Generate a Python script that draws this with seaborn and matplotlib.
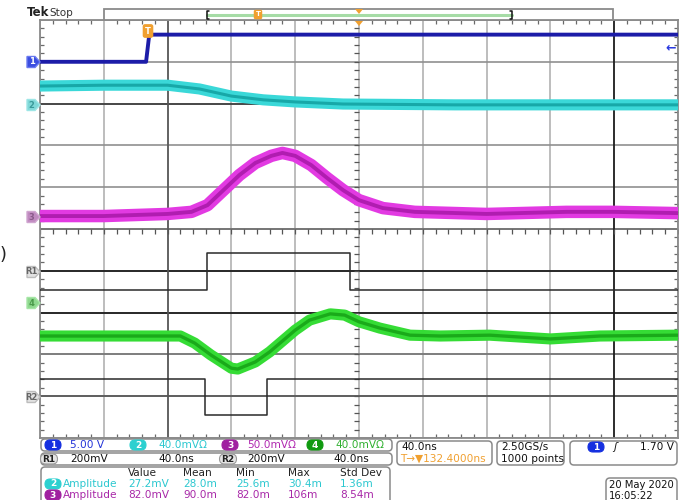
import numpy as np
import matplotlib
matplotlib.use("Agg")
import matplotlib.pyplot as plt
import seaborn as sns
from matplotlib.patches import FancyBboxPatch, Rectangle, Polygon
from matplotlib.transforms import Affine2D

sns.set_theme(style="white")
plt.rcParams['font.family'] = ['DejaVu Sans']

# ---- waveform data (time in ns from left screen edge, 40 ns/div; vertical in screen divisions, 0 = bottom) ----
ch1_t = [0, 66.5, 68.5, 400]
ch1_v = [9.00, 9.00, 9.65, 9.65]

ch2_t = [0, 40, 80, 100, 120, 140, 160, 190, 260, 330, 400]
ch2_v = [8.42, 8.44, 8.44, 8.35, 8.18, 8.09, 8.04, 7.99, 7.97, 7.97, 7.97]

ch3_t = [0, 40, 80, 95, 105, 115, 125, 135, 145, 152, 160, 170, 180, 190, 200, 215, 235, 280, 330, 360, 400]
ch3_v = [5.31, 5.31, 5.36, 5.41, 5.57, 5.93, 6.29, 6.58, 6.75, 6.82, 6.75, 6.53, 6.22, 5.93, 5.69, 5.50, 5.41, 5.36, 5.41, 5.41, 5.38]

ch4_t = [0, 50, 88, 97, 107, 120, 124, 135, 144, 160, 169, 182, 191, 200, 213, 232, 251, 282, 320, 351, 400]
ch4_v = [2.44, 2.44, 2.44, 2.27, 1.99, 1.67, 1.65, 1.82, 2.06, 2.58, 2.82, 2.97, 2.94, 2.78, 2.63, 2.46, 2.44, 2.46, 2.37, 2.44, 2.46]

r1_t = [0, 104.7, 104.7, 194.4, 194.4, 400]
r1_v = [3.54, 3.54, 4.43, 4.43, 3.54, 3.54]

r2_t = [0, 103.4, 103.4, 142.3, 142.3, 400]
r2_v = [1.41, 1.41, 0.55, 0.55, 1.41, 1.41]

# ---- readout texts ----
scale_labels = ["5.00 V", "40.0mVΩ", "50.0mVΩ", "40.0mVΩ"]
ref_labels = ["200mV", "40.0ns", "200mV", "40.0ns"]
meas_header = ["Value", "Mean", "Min", "Max", "Std Dev"]
meas_ch2 = ["27.2mV", "28.0m", "25.6m", "30.4m", "1.36m"]
meas_ch3 = ["82.0mV", "90.0m", "82.0m", "106m", "8.54m"]

ORANGE = '#f0a030'

fig = plt.figure(figsize=(6.92, 5.0), dpi=100)
fig.patch.set_facecolor('white')
P = Affine2D().scale(1 / 692, -1 / 500).translate(0, 1) + fig.transFigure  # pixel coords, top-left origin

ax = fig.add_axes([40 / 692, 62 / 500, 638 / 692, 418 / 500])
ax.set_xlim(0, 400)
ax.set_ylim(0, 10)
ax.set_xticks(np.arange(0, 401, 40))
ax.set_yticks(np.arange(0, 10.01, 1))
ax.set_xticks(np.arange(0, 401, 8), minor=True)
ax.set_yticks(np.arange(0, 10.01, 0.2), minor=True)
ax.set_xticklabels([])
ax.set_yticklabels([])
ax.xaxis.grid(True, which='major', color='#b2b2b2', lw=1.2)
ax.yaxis.grid(True, which='major', color='#909090', lw=1.2)
ax.tick_params(which='major', length=0)
ax.tick_params(which='minor', direction='in', length=3, width=0.9, color='#6a6a6a',
               top=True, bottom=True, left=True, right=True)
for s in ax.spines.values():
    s.set_color('#8a8a8a')
    s.set_linewidth(1.3)
ax.set_axisbelow(True)

# darker graticule lines
for yy, cc in [(4, '#151515'), (3, '#151515'), (8, '#3a3a3a'), (1, '#555555'), (2, '#7a7a7a'), (5, '#707070')]:
    ax.axhline(yy, color=cc, lw=1.2, zorder=1)
for xx, cc in [(80, '#555555'), (360, '#151515')]:
    ax.axvline(xx, color=cc, lw=1.2, zorder=1)

# centre cross ticks
cx = np.arange(0, 401, 8)
ax.plot(cx, np.full(len(cx), 5.0), ls='none', marker=3, ms=3.5, mew=0.9, color='#555555', zorder=1)
cy = np.arange(0, 10.01, 0.2)
ax.plot(np.full(len(cy), 200.0), cy, ls='none', marker=0, ms=3.5, mew=0.9, color='#555555', zorder=1)


def trace(t, v, color, lw, alpha=1.0, z=3):
    sns.lineplot(x=t, y=v, ax=ax, color=color, linewidth=lw, estimator=None, sort=False,
                 alpha=alpha, zorder=z, solid_joinstyle='round')


# reference waveforms
trace(r1_t, r1_v, '#2a2a2a', 1.1, z=3)
trace(r2_t, r2_v, '#2a2a2a', 1.1, z=3)
# noisy channels: light band + darker core
trace(ch2_t, ch2_v, '#3ad8d8', 8.0, z=4)
trace(ch2_t, ch2_v, '#0f9c9c', 2.2, alpha=0.8, z=4)
trace(ch3_t, ch3_v, '#e23ae2', 9.0, z=4)
trace(ch3_t, ch3_v, '#a014a0', 2.8, alpha=0.75, z=4)
trace(ch4_t, ch4_v, '#35dc35', 8.0, z=4)
trace(ch4_t, ch4_v, '#129a12', 2.4, alpha=0.75, z=4)
trace(ch1_t, ch1_v, '#1c1ca8', 2.8, z=5)

# ---- top annotations ----
fig.text(27, 13, "Tek", transform=P, fontsize=8.5, fontweight='bold', color='#222222', va='center')
fig.text(49, 13.5, "Stop", transform=P, fontsize=7.5, color='#333333', va='center')
fig.add_artist(Rectangle((104, 9), 509, 11, transform=P, fc='white', ec='#8a8a8a', lw=1.3))
fig.add_artist(plt.Line2D([207, 512], [14.5, 14.5], transform=P, color='#a6dca6', lw=2.2))
for bx, d in [(207, 1), (512, -1)]:
    fig.add_artist(plt.Line2D([bx + 2 * d, bx, bx, bx + 2 * d], [10.5, 10.5, 18.5, 18.5], transform=P,
                              color='#111111', lw=1.1))
fig.text(258, 14.5, "T", transform=P, fontsize=5, color='white', ha='center', va='center', fontweight='bold',
         bbox=dict(boxstyle='round,pad=0.15', fc=ORANGE, ec=ORANGE))
fig.add_artist(Polygon([[355, 9], [363, 9], [359, 14]], closed=True, transform=P, fc=ORANGE, ec='none'))
fig.add_artist(Polygon([[355, 21], [363, 21], [359, 26]], closed=True, transform=P, fc=ORANGE, ec='none'))
fig.text(148, 31, "T", transform=P, fontsize=6, color='white', ha='center', va='center', fontweight='bold',
         bbox=dict(boxstyle='round,pad=0.2', fc=ORANGE, ec=ORANGE))
fig.text(671, 48, "←", transform=P, fontsize=9, color='#2a3ae0', ha='center', va='center', fontweight='bold')
fig.text(0, 255, ")", transform=P, fontsize=13, color='#222222', ha='left', va='center')


# ---- left channel markers ----
def marker(y, label, fc, ec, tc):
    fig.add_artist(Polygon([[27, y - 5.5], [35, y - 5.5], [40, y], [35, y + 5.5], [27, y + 5.5]], closed=True,
                           transform=P, fc=fc, ec=ec, lw=1.0))
    fig.text(31.5, y, label, transform=P, fontsize=6, color=tc, ha='center', va='center', fontweight='bold')


marker(62, "1", '#3b4ee0', '#6a7af0', 'white')
marker(105, "2", '#7fd8d8', '#9ee6e6', '#3a9a9a')
marker(217, "3", '#c08ac0', '#d0a6d0', '#8a5a8a')
marker(272, "R1", '#e2e2e2', '#bdbdbd', '#666666')
marker(303, "4", '#8ed88e', '#a6e6a6', '#4a9a4a')
marker(397, "R2", '#e2e2e2', '#bdbdbd', '#666666')


# ---- bottom readout ----
def box(x0, y0, x1, y1, r=4):
    fig.add_artist(FancyBboxPatch((x0, y0), x1 - x0, y1 - y0, boxstyle=f'round,pad=0,rounding_size={r}',
                                  transform=P, fc='white', ec='#8a8a8a', lw=1.1))


def pill(x, y, s, fc, tc='white', w=16, h=10, ec=None):
    fig.add_artist(FancyBboxPatch((x - w / 2, y - h / 2), w, h, boxstyle=f'round,pad=0,rounding_size={h / 2}',
                                  transform=P, fc=fc, ec=ec or fc, lw=0.8))
    fig.text(x, y, s, transform=P, fontsize=6.5, color=tc, ha='center', va='center', fontweight='bold')


FS = 7.6
box(41, 439, 392, 451)
box(41, 453, 392, 465)
box(41, 467, 390, 506)
pills = [(53, "1", '#1530e0'), (138, "2", '#2cd0d0'), (230, "3", '#a020a0'), (315, "4", '#109a10')]
text_x = [70, 158, 247, 335]
txt_cols = ['#2434d8', '#2cc8d0', '#b028b0', '#30b030']
for (px, s, fc), tx, lab, tc in zip(pills, text_x, scale_labels, txt_cols):
    pill(px, 445, s, fc)
    fig.text(tx, 445.5, lab, transform=P, fontsize=FS, color=tc, va='center')

pill(49, 459, "R1", '#e4e4e4', '#222222', w=17, ec='#999999')
pill(228, 459, "R2", '#e4e4e4', '#222222', w=17, ec='#999999')
for tx, lab in zip([70, 158, 247, 333], ref_labels):
    fig.text(tx, 459, lab, transform=P, fontsize=FS, color='#111111', va='center')

col_x = [128, 183, 236, 288, 340]
for cxp, h in zip(col_x, meas_header):
    fig.text(cxp, 473, h, transform=P, fontsize=FS, color='#222222', va='center')
pill(53, 484, "2", '#2cd0d0')
fig.text(63, 484, "Amplitude", transform=P, fontsize=FS, color='#2cc8d0', va='center')
pill(53, 495, "3", '#a020a0')
fig.text(63, 495, "Amplitude", transform=P, fontsize=FS, color='#a828a8', va='center')
for cxp, a, b in zip(col_x, meas_ch2, meas_ch3):
    fig.text(cxp, 484, a, transform=P, fontsize=FS, color='#2cc8d0', va='center')
    fig.text(cxp, 495, b, transform=P, fontsize=FS, color='#a828a8', va='center')

box(397, 441, 492, 465)
fig.text(401, 447, "40.0ns", transform=P, fontsize=FS, color='#111111', va='center')
fig.text(400, 459, "T→▼132.4000ns", transform=P, fontsize=FS, color=ORANGE, va='center')
box(497, 441, 564, 465)
fig.text(501, 447, "2.50GS/s", transform=P, fontsize=FS, color='#111111', va='center')
fig.text(501, 459, "1000 points", transform=P, fontsize=FS, color='#111111', va='center')
box(570, 441, 677, 465)
pill(596, 447, "1", '#1530e0')
fig.text(615, 447, "ʃ", transform=P, fontsize=FS, color='#111111', va='center', ha='center', fontstyle='italic')
fig.text(674, 447, "1.70 V", transform=P, fontsize=FS, color='#111111', va='center', ha='right')
box(606, 478, 677, 506)
fig.text(609, 485, "20 May 2020", transform=P, fontsize=7.2, color='#111111', va='center')
fig.text(609, 496, "16:05:22", transform=P, fontsize=7.2, color='#111111', va='center')

fig.savefig("out.png", dpi=100)
